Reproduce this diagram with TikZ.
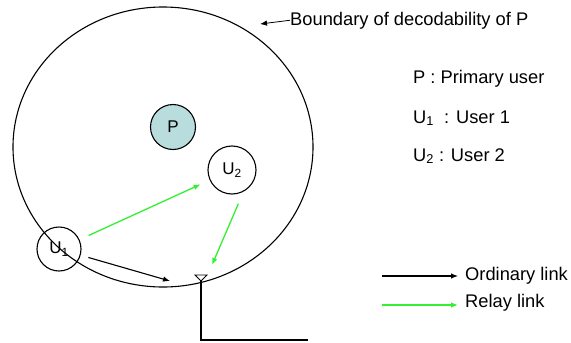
\documentclass[tikz,border=0pt]{standalone}
\usepackage{fontspec}
\setmainfont{Liberation Sans}
\usepackage{tikz}
\usetikzlibrary{arrows.meta,shapes.geometric}
\definecolor{PFill}{HTML}{B9DCDD}
\definecolor{RelayGreen}{HTML}{33F033}

\begin{document}
\begin{tikzpicture}[x=1pt,y=-1pt,
  user/.style={draw,circle,line width=1.1pt,inner sep=0pt,font=\fontsize{17}{20}\selectfont},
  txt/.style={anchor=base west,inner sep=0pt,font=\fontsize{18.3}{21}\selectfont},
  ord/.style={-{Latex[length=7pt,width=5.5pt]},line width=1.1pt},
  rel/.style={-{Latex[length=7pt,width=5.5pt]},line width=1.3pt,RelayGreen}
]
  \useasboundingbox (0,0) rectangle (571,343);

  % boundary of P and the users
  \node[draw,ellipse,line width=1.1pt,minimum width=300pt,minimum height=280pt] (bound) at (163,147) {};
  \node[user,fill=PFill,minimum size=45pt] (P) at (173,127) {P};
  \node[user,minimum size=48pt] (U2) at (232,170) {U\textsubscript{2}};
  \node[user,minimum size=44pt] (U1) at (59,249) {U\textsubscript{1}};

  % antenna
  \coordinate (ant) at (201,281);
  \coordinate (wire) at (308,340);
  \draw[line width=0.9pt] (ant) -- ++(-6,-6) -- ++(12,0) -- cycle;
  \draw[line width=1.1pt] (ant) |- (wire);

  % links
  \coordinate (ox) at (170,281);
  \coordinate (rx) at (212,265);
  \draw[rel,shorten <=10pt,shorten >=10pt] (U1) -- (U2);
  \draw[rel,shorten <=13pt] (U2.-62) -- (rx);
  \draw[ord,shorten <=8pt] (U1) -- (ox);

  % labels
  \node[txt] (blab) at (290,25) {Boundary of decodability of P};
  \coordinate (bpt) at (260,24);
  \draw[ord,line width=0.8pt] (blab.west) -- (bpt);

  \node[txt] (lp) at (413,83) {P : Primary user};
  \node[txt] (lu1) at (413,123) {U\textsubscript{1}\ \ : User 1};
  \node[txt] (lu2) at (413,161) {U\textsubscript{2} : User 2};

  % legend
  \node[txt] (lord) at (465,280) {Ordinary link};
  \node[txt] (lrel) at (465,307) {Relay link};
  \coordinate (ostart) at (382,276);
  \coordinate (oend) at (458,276);
  \coordinate (rstart) at (382,305);
  \coordinate (rend) at (458,305);
  \draw[ord] (ostart) -- (oend);
  \draw[rel] (rstart) -- (rend);
\end{tikzpicture}
\end{document}
